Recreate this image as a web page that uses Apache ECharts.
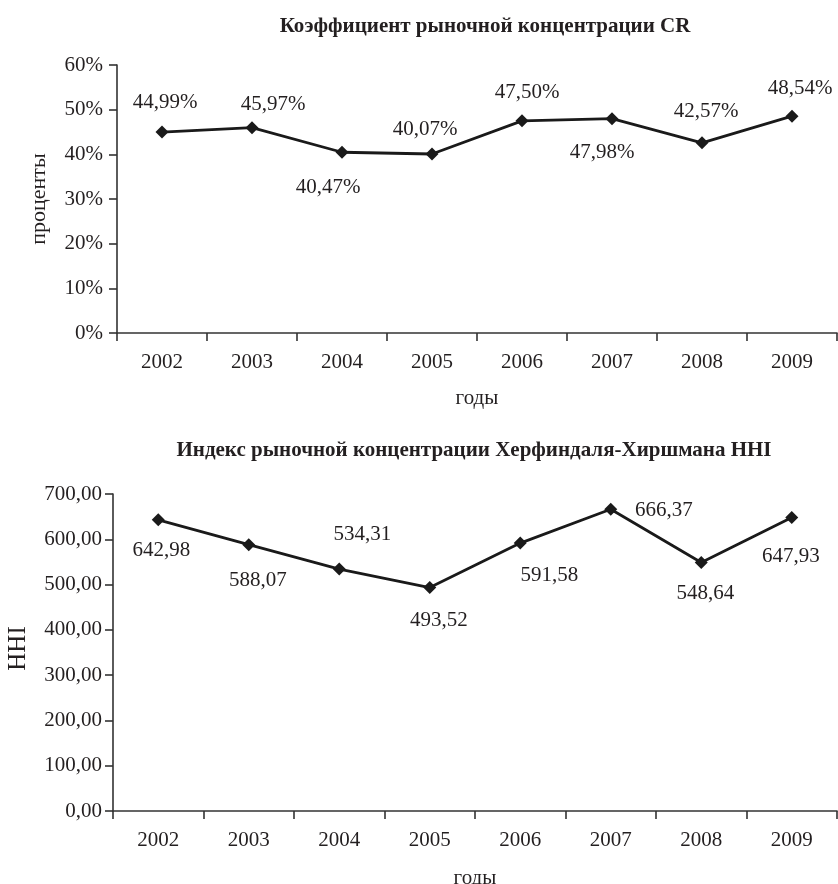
<!DOCTYPE html>
<html>
<head>
<meta charset="utf-8">
<script src="https://cdn.jsdelivr.net/npm/echarts@6/dist/echarts.min.js"></script>
<style>
html,body{margin:0;padding:0;background:#fff;}
#chart{width:838px;height:884px;}
</style>
</head>
<body>
<div id="chart"></div>
<script>
const years = ['2002','2003','2004','2005','2006','2007','2008','2009'];
const crValues = [44.99, 45.97, 40.47, 40.07, 47.50, 47.98, 42.57, 48.54];
const hhiValues = [642.98, 588.07, 534.31, 493.52, 591.58, 666.37, 548.64, 647.93];
const crTicks = {min: 0, max: 60, interval: 10};
const hhiTicks = {min: 0, max: 700, interval: 100};

// label placement (style only): offset of each value label from its marker
const crLabelOffsets = [[3,-30],[21,-23],[-14,35],[-7,-25],[5,-28],[-10,34],[4,-31],[8,-28]];
const hhiLabelOffsets = [[3,31],[9,36],[23,-35],[9,33],[29,32],[53,1],[4,31],[-1,39]];

const FONT = 'Liberation Serif';
const TXT = '#231f20';
const fmtNum = v => v.toFixed(2).replace('.', ',');

function seriesData(vals, offs, fmt) {
  return vals.map((v, i) => ({
    value: v,
    label: {show: true, position: 'inside', offset: offs[i], formatter: fmt(v),
      fontFamily: FONT, fontSize: 21, color: TXT}
  }));
}

const axisLine = {show: true, lineStyle: {color: '#333', width: 1.6}};

const chart = echarts.init(document.getElementById('chart'), null, {renderer: 'canvas'});
chart.setOption({
  animation: false,
  backgroundColor: '#fff',
  title: [
    {text: 'Коэффициент рыночной концентрации CR', left: 480, top: 11, textAlign: 'center',
     textStyle: {fontFamily: FONT, fontWeight: 'bold', fontSize: 21, color: TXT}},
    {text: 'Индекс рыночной концентрации Херфиндаля-Хиршмана HHI', left: 469, top: 435, textAlign: 'center',
     textStyle: {fontFamily: FONT, fontWeight: 'bold', fontSize: 21, color: TXT}}
  ],
  grid: [
    {left: 117, right: 1, top: 65, height: 268, containLabel: false, outerBoundsMode: 'none'},
    {left: 113, right: 1, top: 494, height: 317, containLabel: false, outerBoundsMode: 'none'}
  ],
  xAxis: [
    {type: 'category', gridIndex: 0, data: years, boundaryGap: true,
     axisLine: axisLine, axisTick: {show: true, length: 8, lineStyle: {color: '#333', width: 1.6}},
     axisLabel: {margin: 19, fontFamily: FONT, fontSize: 21, color: TXT},
     name: 'годы', nameLocation: 'middle', nameGap: 55,
     nameTextStyle: {fontFamily: FONT, fontSize: 21, color: TXT}},
    {type: 'category', gridIndex: 1, data: years, boundaryGap: true,
     axisLine: axisLine, axisTick: {show: true, length: 8, lineStyle: {color: '#333', width: 1.6}},
     axisLabel: {margin: 19, fontFamily: FONT, fontSize: 21, color: TXT},
     name: 'годы', nameLocation: 'middle', nameGap: 57,
     nameTextStyle: {fontFamily: FONT, fontSize: 21, color: TXT}}
  ],
  yAxis: [
    {type: 'value', gridIndex: 0, min: crTicks.min, max: crTicks.max, interval: crTicks.interval,
     axisLine: axisLine, axisTick: {show: true, length: 8, lineStyle: {color: '#333', width: 1.6}},
     splitLine: {show: false},
     axisLabel: {margin: 14, fontFamily: FONT, fontSize: 21, color: TXT, formatter: v => v + '%'},
     name: 'проценты', nameLocation: 'middle', nameGap: 67, nameRotate: 90,
     nameTextStyle: {fontFamily: FONT, fontSize: 22, color: TXT}},
    {type: 'value', gridIndex: 1, min: hhiTicks.min, max: hhiTicks.max, interval: hhiTicks.interval,
     axisLine: axisLine, axisTick: {show: true, length: 8, lineStyle: {color: '#333', width: 1.6}},
     splitLine: {show: false},
     axisLabel: {margin: 11, fontFamily: FONT, fontSize: 21, color: TXT, formatter: v => fmtNum(v)},
     name: 'HHI', nameLocation: 'middle', nameGap: 82, nameRotate: 90,
     nameTextStyle: {fontFamily: FONT, fontSize: 25, color: TXT, padding: [0, 0, 0, 8]}}
  ],
  series: [
    {type: 'line', xAxisIndex: 0, yAxisIndex: 0,
     data: seriesData(crValues, crLabelOffsets, v => fmtNum(v) + '%'),
     symbol: 'diamond', symbolSize: 13, lineStyle: {color: '#1a1a1a', width: 2.8},
     itemStyle: {color: '#1a1a1a'}},
    {type: 'line', xAxisIndex: 1, yAxisIndex: 1,
     data: seriesData(hhiValues, hhiLabelOffsets, v => fmtNum(v)),
     symbol: 'diamond', symbolSize: 13, lineStyle: {color: '#1a1a1a', width: 2.8},
     itemStyle: {color: '#1a1a1a'}}
  ]
});
</script>
</body>
</html>
